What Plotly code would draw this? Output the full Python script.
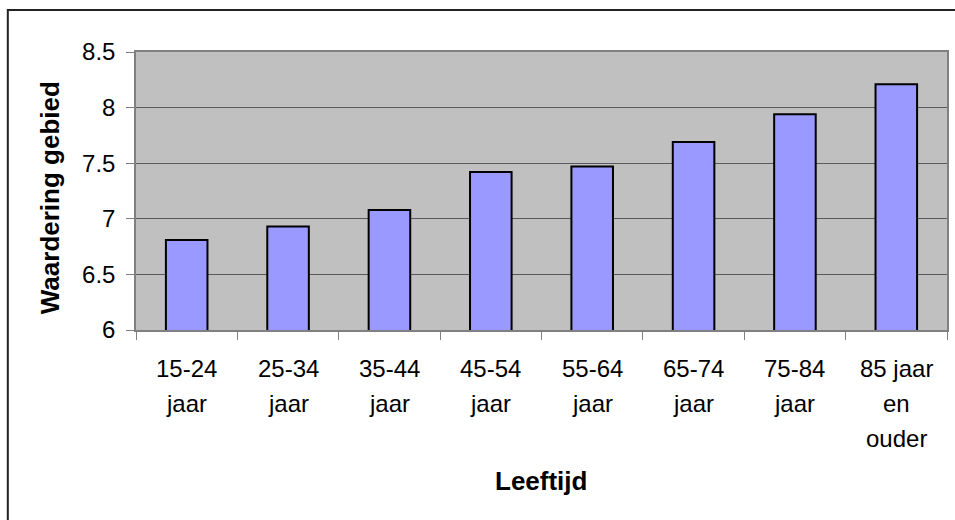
import plotly.graph_objects as go

# Age groups and the average appreciation score of the area per group
categories = [
    "15-24 jaar", "25-34 jaar", "35-44 jaar", "45-54 jaar",
    "55-64 jaar", "65-74 jaar", "75-84 jaar", "85 jaar en ouder",
]
# Wrapped category labels as shown under the axis
tick_lines = [
    ["15-24", "jaar"], ["25-34", "jaar"], ["35-44", "jaar"], ["45-54", "jaar"],
    ["55-64", "jaar"], ["65-74", "jaar"], ["75-84", "jaar"], ["85 jaar", "en", "ouder"],
]
scores = [6.81, 6.93, 7.08, 7.42, 7.47, 7.69, 7.94, 8.21]
y_ticks = [6, 6.5, 7, 7.5, 8, 8.5]

W, H = 955, 520
PL, PR, PT, PB = 136, 949, 52, 330  # plot-area edges in pixels


def px_x(x):
    return (x - PL) / (PR - PL)


def px_y(y):
    return (PB - y) / (PB - PT)


FONT = "Liberation Sans, Arial, sans-serif"
TICK_SIZE = 24

fig = go.Figure(
    go.Bar(
        x=categories,
        y=scores,
        marker=dict(color="#9999FF", line=dict(color="#000000", width=2)),
        hoverinfo="x+y",
    )
)

fig.update_layout(
    width=W,
    height=H,
    margin=dict(l=PL, r=W - PR, t=PT, b=H - PB, pad=0),
    paper_bgcolor="#FFFFFF",
    plot_bgcolor="#C0C0C0",
    bargap=0.59,
    showlegend=False,
    font=dict(family=FONT, color="#000000", size=TICK_SIZE),
)

fig.update_xaxes(
    type="category",
    categoryorder="array",
    categoryarray=categories,
    tickson="boundaries",
    ticks="outside",
    ticklen=8,
    tickwidth=1,
    tickcolor="#808080",
    showline=True,
    linecolor="#808080",
    linewidth=1.5,
    mirror=True,
    showgrid=False,
    showticklabels=False,
    fixedrange=True,
)

fig.update_yaxes(
    range=[6, 8.5],
    tickvals=y_ticks,
    ticktext=[f"{v:g}" for v in y_ticks],
    ticks="outside",
    ticklen=8,
    tickwidth=1,
    tickcolor="#808080",
    showline=True,
    linecolor="#808080",
    linewidth=1.5,
    mirror=True,
    showgrid=True,
    gridcolor="#5A5A5A",
    gridwidth=1,
    zeroline=False,
    tickfont=dict(size=TICK_SIZE),
    ticklabelstandoff=6,
    fixedrange=True,
)

# Category labels, one annotation per wrapped line, centred on each category
for cat, lines in zip(categories, tick_lines):
    for i, line in enumerate(lines):
        fig.add_annotation(
            text=line,
            xref="x", yref="paper",
            x=cat, y=px_y(368 + 35 * i),
            showarrow=False,
            font=dict(size=TICK_SIZE, family=FONT),
            xanchor="center", yanchor="middle",
        )

# Axis titles
fig.add_annotation(
    text="<b>Waardering gebied</b>",
    xref="paper", yref="paper",
    x=px_x(50), y=px_y(198),
    textangle=-90, showarrow=False,
    font=dict(size=26, family=FONT),
    xanchor="center", yanchor="middle",
)
fig.add_annotation(
    text="<b>Leeftijd</b>",
    xref="paper", yref="paper",
    x=px_x(542), y=px_y(481),
    showarrow=False,
    font=dict(size=26, family=FONT),
    xanchor="center", yanchor="middle",
)

# Chart-area frame
fig.add_shape(
    type="rect",
    xref="paper", yref="paper",
    x0=px_x(7.5), x1=px_x(962),
    y0=px_y(530), y1=px_y(10),
    line=dict(color="#222222", width=2),
    fillcolor="rgba(0,0,0,0)",
    layer="below",
)

fig.write_html("out.html")
